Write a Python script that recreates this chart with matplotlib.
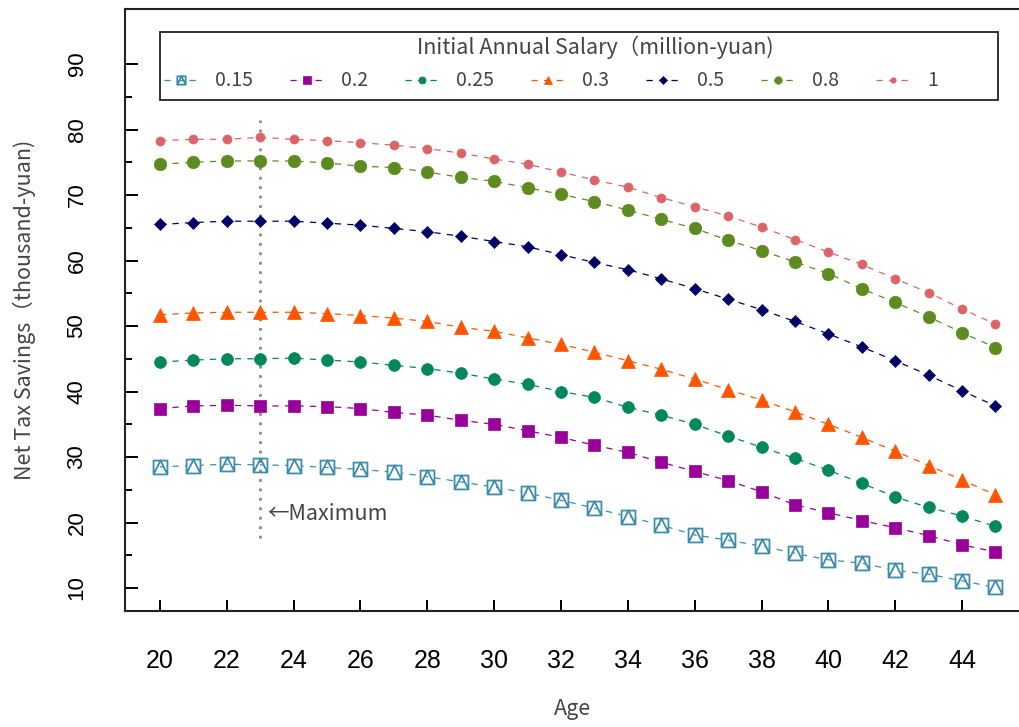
import matplotlib
matplotlib.use("Agg")
import matplotlib.pyplot as plt
from matplotlib.path import Path
from matplotlib.patches import Rectangle

# ---------------- data ----------------
ages = list(range(20, 46))
salary_labels = ["0.15", "0.2", "0.25", "0.3", "0.5", "0.8", "1"]

s015 = [28.5, 28.7, 28.9, 28.8, 28.7, 28.4, 28.1, 27.7, 27.0, 26.2, 25.4, 24.5, 23.4,
        22.2, 20.9, 19.6, 18.1, 17.3, 16.4, 15.3, 14.3, 13.8, 12.7, 12.1, 11.1, 10.1]
s02 = [37.4, 37.8, 37.9, 37.8, 37.8, 37.7, 37.4, 36.8, 36.4, 35.6, 35.0, 34.0, 33.0,
       31.8, 30.7, 29.2, 27.8, 26.4, 24.7, 22.7, 21.5, 20.3, 19.2, 18.0, 16.6, 15.5]
s025 = [44.5, 44.8, 45.0, 45.0, 45.1, 44.8, 44.5, 44.0, 43.5, 42.8, 41.9, 41.1, 40.0,
        39.1, 37.6, 36.4, 35.0, 33.2, 31.5, 29.8, 28.0, 26.0, 23.9, 22.3, 21.0, 19.4]
s03 = [51.7, 52.0, 52.1, 52.1, 52.1, 51.9, 51.6, 51.2, 50.7, 49.8, 49.2, 48.2, 47.2,
       46.0, 44.7, 43.4, 41.9, 40.3, 38.7, 36.9, 35.0, 33.0, 30.9, 28.7, 26.5, 24.2]
s05 = [65.5, 65.8, 66.0, 66.0, 66.0, 65.7, 65.4, 64.9, 64.4, 63.7, 62.9, 62.1, 60.9,
       59.7, 58.6, 57.2, 55.7, 54.1, 52.5, 50.7, 48.8, 46.8, 44.7, 42.5, 40.1, 37.8]
s08 = [74.7, 75.0, 75.2, 75.2, 75.2, 74.9, 74.4, 74.2, 73.5, 72.7, 72.1, 71.1, 70.1,
       69.0, 67.7, 66.3, 64.9, 63.1, 61.5, 59.8, 58.0, 55.7, 53.6, 51.4, 49.0, 46.7]
s1 = [78.3, 78.5, 78.5, 78.8, 78.5, 78.3, 78.0, 77.6, 77.1, 76.4, 75.5, 74.7, 73.5,
      72.3, 71.2, 69.6, 68.2, 66.8, 65.1, 63.2, 61.3, 59.4, 57.2, 55.1, 52.6, 50.3]

series = [s015, s02, s025, s03, s05, s08, s1]
colors = ["#3C8DAD", "#990099", "#00875A", "#FF5500", "#000066", "#5E8B1F", "#DB6468"]

max_age = 23
max_line = (17.6, 81.5)
x_ticks = list(range(20, 45, 2))
y_ticks = list(range(10, 91, 10))

legend_title = "Initial Annual Salary\uff08million-yuan)"

# ---------------- style ----------------
cjk = ["Noto Sans CJK SC", "DejaVu Sans"]
arial = ["Liberation Sans", "DejaVu Sans"]

# square with inscribed triangle (R pch 14)
sq_tri = Path([(-1, -1), (1, -1), (1, 1), (-1, 1), (-1, -1),
               (-1, -1), (0, 1), (1, -1)],
              [Path.MOVETO, Path.LINETO, Path.LINETO, Path.LINETO, Path.CLOSEPOLY,
               Path.MOVETO, Path.LINETO, Path.LINETO])

markers = [sq_tri, "s", "o", "^", "D", "o", "o"]
msizes = [10, 9, 8.5, 10.5, 6.5, 9, 6.5]

W, H = 1019, 727
fig = plt.figure(figsize=(W / 100, H / 100), dpi=100)
ax_l, ax_r, ax_t, ax_b = 125, 1019, 9, 611
ax = fig.add_axes([ax_l / W, 1 - ax_b / H, (ax_r - ax_l) / W, (ax_b - ax_t) / H])


def axfx(px):
    return (px - ax_l) / (ax_r - ax_l)


def axfy(py):
    return (ax_b - py) / (ax_b - ax_t)


for vals, lab, c, m, ms in zip(series, salary_labels, colors, markers, msizes):
    if m is sq_tri:
        ax.plot(ages, vals, linestyle=(0, (5, 5)), lw=0.9, color=c, marker=m,
                ms=ms, mfc="white", mec=c, mew=1.3, label=lab)
    else:
        ax.plot(ages, vals, linestyle=(0, (5, 5)), lw=0.9, color=c, marker=m,
                ms=ms, mfc=c, mec=c, mew=0.5, label=lab)

ax.plot([max_age, max_age], list(max_line), color="#8a8a8a", lw=2.0,
        linestyle=(0, (1, 2.4)), zorder=1)
ax.text(max_age + 0.2, 21.3, "\u2190Maximum", fontsize=15.5, family=cjk,
        color="#444444", ha="left", va="center")

ax.set_xlim(18.953, 45.705)
ax.set_ylim(6.49, 98.4)

ax.set_xticks(x_ticks)
ax.set_yticks(y_ticks)
ax.set_yticks(list(range(15, 90, 10)), minor=True)
ax.tick_params(axis="x", direction="in", length=8, width=1.4, pad=27,
               labelsize=18)
ax.tick_params(axis="y", which="major", direction="in", length=9, width=1.4,
               pad=27, labelsize=16, labelrotation=90)
ax.tick_params(axis="y", which="minor", direction="in", length=5, width=1.4)
for lbl in ax.get_xticklabels() + ax.get_yticklabels():
    lbl.set_family(arial)
for lbl in ax.get_yticklabels():
    lbl.set_va("center")

ax.spines["right"].set_visible(False)
for s in ["left", "bottom", "top"]:
    ax.spines[s].set_linewidth(1.5)
    ax.spines[s].set_color("#222222")

ax.set_xlabel("Age", fontsize=15.5, family=cjk, color="#444444", labelpad=18)
ax.set_ylabel("Net Tax Savings\uff08thousand-yuan)", fontsize=15.5, family=cjk,
              color="#444444", labelpad=22)

# legend frame (R-style box with fixed-width columns)
frame = Rectangle((axfx(160), axfy(100)), axfx(998) - axfx(160), axfy(32) - axfy(100),
                  transform=ax.transAxes, facecolor="white", edgecolor="#222222",
                  linewidth=1.3, zorder=5, clip_on=False)
ax.add_patch(frame)
ax.text(axfx(595), axfy(47), legend_title, transform=ax.transAxes, fontsize=15.5,
        family=cjk, color="#444444", ha="center", va="center", zorder=6)

leg = ax.legend(loc="center left", bbox_to_anchor=(axfx(164), axfy(81)),
                ncol=7, frameon=False,
                prop={"family": cjk, "size": 14},
                handlelength=1.75, handletextpad=0.88, columnspacing=1.9,
                markerscale=0.6, numpoints=1, borderpad=0, borderaxespad=0)
leg.set_zorder(7)
for t in leg.get_texts():
    t.set_color("#444444")

fig.savefig("out.png", dpi=100)
